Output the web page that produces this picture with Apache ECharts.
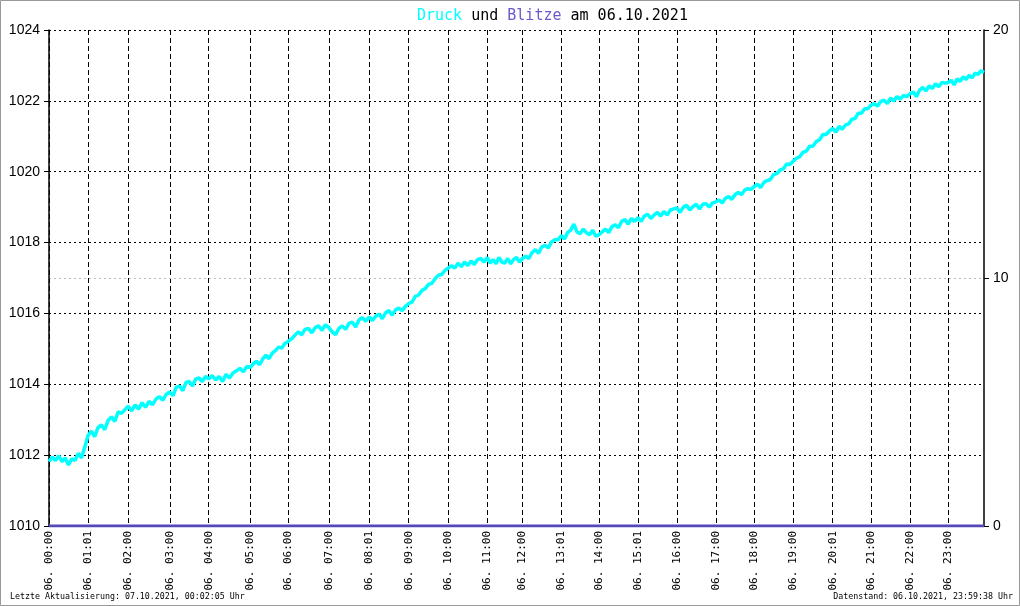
<!DOCTYPE html>
<html>
<head>
<meta charset="utf-8">
<script src="https://cdn.jsdelivr.net/npm/echarts@6/dist/echarts.min.js"></script>
<style>
html,body{margin:0;padding:0;background:#fff;}
#chart{width:1020px;height:606px;}
</style>
</head>
<body>
<div id="chart"></div>
<script>
// Sample index (Messwert-Nr.) of the first sample of each hour and the tick labels
const hourIdx = [0,60,122,186,246,310,368,431,493,554,615,675,729,789,847,907,967,1027,1086,1146,1207,1266,1326,1385];
const endIdx = 1440;
const timeLabels = ['06. 00:00','06. 01:01','06. 02:00','06. 03:00','06. 04:00','06. 05:00','06. 06:00','06. 07:00','06. 08:01','06. 09:00','06. 10:00','06. 11:00','06. 12:00','06. 13:01','06. 14:00','06. 15:01','06. 16:00','06. 17:00','06. 18:00','06. 19:00','06. 20:01','06. 21:00','06. 22:00','06. 23:00'];

// Luftdruck (hPa), 12 readings per hour (~5 min), last value = 23:59
const druck = [
1011.82,1011.95,1011.85,1011.98,1011.82,1011.92,1011.72,1011.90,1011.85,1012.05,1011.92,1012.22,
1012.55,1012.68,1012.52,1012.78,1012.85,1012.72,1012.98,1013.08,1012.95,1013.22,1013.18,1013.28,
1013.38,1013.25,1013.42,1013.30,1013.48,1013.35,1013.52,1013.42,1013.58,1013.65,1013.55,1013.72,
1013.78,1013.68,1013.92,1013.95,1013.82,1014.05,1014.08,1013.95,1014.15,1014.18,1014.08,1014.22,
1014.15,1014.25,1014.12,1014.22,1014.08,1014.28,1014.18,1014.32,1014.38,1014.45,1014.35,1014.50,
1014.48,1014.58,1014.65,1014.55,1014.72,1014.82,1014.72,1014.88,1014.95,1015.05,1015.02,1015.15,
1015.20,1015.28,1015.38,1015.48,1015.40,1015.55,1015.58,1015.45,1015.60,1015.65,1015.52,1015.68,
1015.60,1015.48,1015.40,1015.58,1015.65,1015.55,1015.72,1015.75,1015.62,1015.82,1015.88,1015.78,
1015.90,1015.80,1015.92,1015.98,1015.85,1016.02,1016.08,1015.95,1016.10,1016.15,1016.08,1016.20,
1016.28,1016.32,1016.48,1016.52,1016.65,1016.70,1016.82,1016.85,1016.98,1017.08,1017.10,1017.22,
1017.28,1017.35,1017.28,1017.42,1017.32,1017.45,1017.35,1017.48,1017.38,1017.52,1017.55,1017.45,
1017.58,1017.42,1017.52,1017.40,1017.58,1017.45,1017.42,1017.55,1017.40,1017.52,1017.58,1017.45,
1017.55,1017.62,1017.55,1017.72,1017.80,1017.70,1017.88,1017.92,1017.85,1018.02,1018.08,1018.08,
1018.20,1018.10,1018.28,1018.35,1018.52,1018.30,1018.25,1018.38,1018.28,1018.22,1018.35,1018.18,
1018.22,1018.30,1018.38,1018.28,1018.45,1018.50,1018.42,1018.60,1018.65,1018.52,1018.68,1018.60,
1018.70,1018.60,1018.75,1018.80,1018.68,1018.78,1018.85,1018.75,1018.88,1018.78,1018.92,1018.95,
1018.98,1018.85,1019.00,1019.05,1018.92,1019.02,1019.08,1018.95,1019.08,1019.10,1019.00,1019.12,
1019.15,1019.20,1019.12,1019.25,1019.30,1019.22,1019.35,1019.42,1019.35,1019.48,1019.52,1019.50,
1019.58,1019.65,1019.55,1019.70,1019.75,1019.78,1019.92,1019.95,1020.05,1020.08,1020.22,1020.20,
1020.30,1020.38,1020.42,1020.55,1020.58,1020.72,1020.72,1020.85,1020.90,1021.05,1021.05,1021.15,
1021.22,1021.12,1021.28,1021.20,1021.32,1021.35,1021.48,1021.50,1021.65,1021.65,1021.78,1021.78,
1021.88,1021.92,1021.85,1021.98,1022.02,1021.92,1022.08,1022.00,1022.12,1022.05,1022.15,1022.12,
1022.20,1022.25,1022.12,1022.30,1022.38,1022.28,1022.42,1022.35,1022.48,1022.40,1022.52,1022.50,
1022.52,1022.58,1022.45,1022.62,1022.55,1022.68,1022.60,1022.72,1022.65,1022.78,1022.75,1022.85,
1022.80
];

// Blitze (Anzahl), one value per hour + end
const blitze = [0,0,0,0,0,0,0,0,0,0,0,0,0,0,0,0,0,0,0,0,0,0,0,0,0];

const druckTicks = [1010,1012,1014,1016,1018,1020,1022,1024];
const blitzeTicks = [0,10,20];

// build [sampleIndex, value] pairs
const hourBounds = hourIdx.concat([endIdx]);
const druckData = druck.map((v, i) => {
  const h = Math.min(Math.floor(i / 12), 23);
  const k = i - h * 12;
  const x = hourBounds[h] + (hourBounds[h + 1] - hourBounds[h]) * k / 12;
  return [x, v];
});
const blitzeData = blitze.map((v, i) => [hourBounds[i], v]);

const chart = echarts.init(document.getElementById('chart'), null, {renderer: 'canvas'});
const mono = 'DejaVu Sans Mono';
const sans = 'Liberation Sans';

chart.setOption({
  animation: false,
  backgroundColor: '#ffffff',
  title: {
    text: '{c|Druck}{k| und }{b|Blitze}{k| am 06.10.2021}',
    left: 412,
    top: 4,
    textStyle: {
      fontWeight: 'normal',
      rich: {
        c: {color: '#00ffff', fontFamily: mono, fontSize: 15, fontWeight: 'normal'},
        b: {color: '#6a5acd', fontFamily: mono, fontSize: 15, fontWeight: 'normal'},
        k: {color: '#000000', fontFamily: mono, fontSize: 15, fontWeight: 'normal'}
      }
    }
  },
  graphic: [
    {type: 'rect', shape: {x: 0.5, y: 0.5, width: 1019, height: 605}, style: {fill: 'none', stroke: '#999999', lineWidth: 1}, silent: true, z: 100},
    {type: 'text', left: 10, top: 593, style: {text: 'Letzte Aktualisierung: 07.10.2021, 00:02:05 Uhr', font: '8.3px "DejaVu Sans Mono"', fill: '#000'}},
    {type: 'text', right: 7, top: 593, style: {text: 'Datenstand: 06.10.2021, 23:59:38 Uhr', font: '8.3px "DejaVu Sans Mono"', fill: '#000'}}
  ],
  grid: {left: 49, right: 36, top: 30, bottom: 80, containLabel: false},
  xAxis: {
    type: 'value',
    min: 0,
    max: endIdx,
    axisLine: {show: true, lineStyle: {color: '#000', width: 1}},
    axisTick: {show: false, customValues: hourIdx},
    axisLabel: {
      customValues: hourIdx,
      rotate: 90,
      margin: 5,
      fontFamily: mono,
      fontSize: 11,
      color: '#000',
      formatter: v => { const i = hourIdx.indexOf(Math.round(v)); return i >= 0 ? timeLabels[i] : ''; }
    },
    splitLine: {show: true, lineStyle: {color: '#000', type: [5, 3], width: 1}}
  },
  yAxis: [
    {
      type: 'value',
      min: druckTicks[0],
      max: druckTicks[druckTicks.length - 1],
      interval: 2,
      position: 'left',
      axisLine: {show: true, lineStyle: {color: '#000', width: 1.5}},
      axisTick: {show: true, length: 5, lineStyle: {color: '#000'}},
      axisLabel: {margin: 9, fontFamily: sans, fontSize: 14, color: '#000', formatter: v => String(v)},
      splitLine: {show: true, lineStyle: {color: '#000', type: [2, 3], width: 1}},
      z: 2
    },
    {
      type: 'value',
      min: blitzeTicks[0],
      max: blitzeTicks[blitzeTicks.length - 1],
      interval: 10,
      position: 'right',
      axisLine: {show: true, lineStyle: {color: '#000', width: 1.5}},
      axisTick: {show: true, length: 5, lineStyle: {color: '#000'}},
      axisLabel: {margin: 9, fontFamily: sans, fontSize: 14, color: '#000', formatter: v => String(v)},
      splitLine: {show: true, lineStyle: {color: '#bbbbbb', type: [2, 3], width: 1}},
      z: 1
    }
  ],
  series: [
    {
      name: 'Druck',
      type: 'line',
      yAxisIndex: 0,
      data: druckData,
      showSymbol: false,
      symbol: 'none',
      lineStyle: {color: '#00ffff', width: 3.5},
      z: 3
    },
    {
      name: 'Blitze',
      type: 'line',
      yAxisIndex: 1,
      data: blitzeData,
      showSymbol: false,
      symbol: 'none',
      lineStyle: {color: '#5548b8', width: 3},
      z: 4
    }
  ]
});
</script>
</body>
</html>
